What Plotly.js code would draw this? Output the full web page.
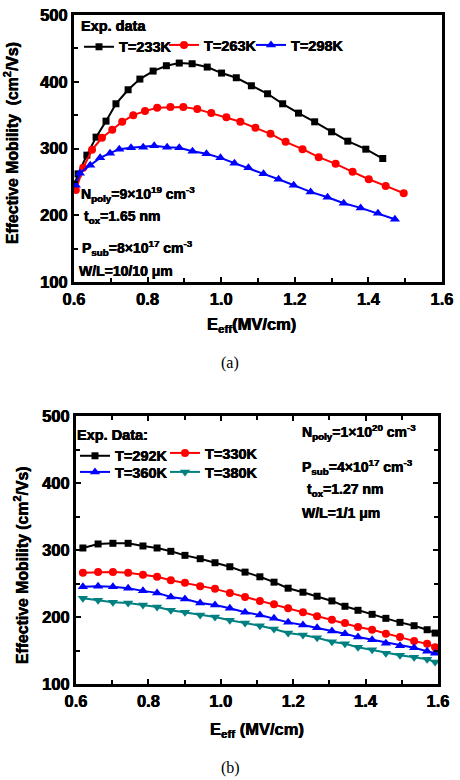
<!DOCTYPE html>
<html>
<head>
<meta charset="utf-8">
<script src="https://cdn.plot.ly/plotly-3.0.1.min.js"></script>
<style>html,body{margin:0;padding:0;background:#fff;}#chart{width:460px;height:780px;}</style>
</head>
<body>
<div id="chart"></div>
<script>
// ---- Panel (a) data ----
const a_x233 = [0.602,0.611,0.635,0.660,0.687,0.714,0.747,0.779,0.815,0.851,0.886,0.921,0.962,1.001,1.041,1.082,1.126,1.167,1.210,1.254,1.300,1.344,1.393,1.439];
const a_y233 = [247,262,290,317,341,367,388,404,416,424,428,427,422,413,406,394,382,367,353,340,325,311,299,285];
const a_x263 = [0.605,0.625,0.649,0.676,0.704,0.731,0.761,0.793,0.826,0.862,0.897,0.935,0.973,1.014,1.052,1.093,1.134,1.175,1.221,1.265,1.311,1.357,1.401,1.447,1.496];
const a_y263 = [238,271,298,316,328,340,350,356,361,362,362,359,353,347,340,331,322,310,299,287,277,265,254,244,233];
const a_x298 = [0.605,0.616,0.644,0.671,0.698,0.723,0.755,0.788,0.818,0.853,0.886,0.922,0.960,0.998,1.036,1.074,1.115,1.156,1.197,1.243,1.289,1.333,1.379,1.426,1.472];
const a_y298 = [245,263,275,286,293,299,301,302,304,302,301,296,292,286,278,271,262,254,245,235,227,218,211,203,194];

// ---- Panel (b) data ----
const b_x = [0.619,0.661,0.702,0.744,0.785,0.824,0.862,0.901,0.943,0.984,1.025,1.067,1.108,1.147,1.186,1.227,1.266,1.307,1.343,1.379,1.418,1.456,1.495,1.534,1.570,1.592];
const b_y292 = [303,309,310,310,306,303,298,292,287,281,275,267,260,252,243,237,231,224,216,210,204,198,192,187,181,176];
const b_y330 = [266,267,267,266,263,260,255,251,246,242,236,230,224,219,213,207,201,196,191,185,181,175,170,164,160,155];
const b_y360 = [245,246,245,243,239,236,230,227,221,218,213,207,203,198,192,188,184,179,175,170,166,161,157,154,149,146];
const b_y380 = [228,225,222,221,218,215,210,207,203,200,195,191,187,182,176,173,169,163,160,155,151,146,143,140,137,133];

const a_names = ['T=233K','T=263K','T=298K'];
const b_names = ['T=292K','T=330K','T=360K','T=380K'];

const FONT = "'Liberation Sans', Arial, sans-serif";
const BLACK = '#000000', RED = '#ff0000', BLUE = '#0000ff', TEAL = '#008080';
const HEAVY = '0.3px 0 0 #000, -0.3px 0 0 #000';

function tr(x, y, name, color, symbol, size, xa, ya, legend) {
  return {
    x: x, y: y, name: name, type: 'scatter', mode: 'lines+markers',
    xaxis: xa, yaxis: ya, legend: legend,
    line: {color: color, width: 2},
    marker: {color: color, symbol: symbol, size: size, line: {width: 0}}
  };
}

const data = [
  tr(a_x233, a_y233, a_names[0], BLACK, 'square', 7, 'x', 'y', 'legend'),
  tr(a_x263, a_y263, a_names[1], RED, 'circle', 8, 'x', 'y', 'legend4'),
  tr(a_x298, a_y298, a_names[2], BLUE, 'triangle-up', 9, 'x', 'y', 'legend5'),
  tr(b_x, b_y292, b_names[0], BLACK, 'square', 7, 'x2', 'y2', 'legend2'),
  tr(b_x, b_y330, b_names[1], RED, 'circle', 8, 'x2', 'y2', 'legend6'),
  tr(b_x, b_y360, b_names[2], BLUE, 'triangle-up', 9, 'x2', 'y2', 'legend3'),
  tr(b_x, b_y380, b_names[3], TEAL, 'triangle-down', 9, 'x2', 'y2', 'legend7')
];

const W = 460, H = 780;
const px = v => v / W;
const py = v => 1 - v / H;

function bold(size) { return {family: FONT, size: size, color: '#000', weight: 700, shadow: HEAVY}; }

const tickFont = bold(16.5);

function xaxis(domain, anchor, mirror) {
  return {
    domain: domain, anchor: anchor, range: [0.6, 1.6], dtick: 0.2, tick0: 0.6,
    tickformat: '.1f', showgrid: false, zeroline: false,
    showline: true, linecolor: '#000', linewidth: 3, mirror: mirror,
    ticks: 'inside', ticklen: 5, tickwidth: 2, tickcolor: '#000',
    minor: {dtick: 0.1, ticks: 'inside', ticklen: 4, tickwidth: 2, tickcolor: '#000', showgrid: false},
    tickfont: tickFont,
    fixedrange: true
  };
}
function yaxis(domain, anchor, mirror) {
  return {
    domain: domain, anchor: anchor, range: [100, 500], dtick: 100, tick0: 100,
    showgrid: false, zeroline: false,
    showline: true, linecolor: '#000', linewidth: 3, mirror: mirror,
    ticks: 'inside', ticklen: 5, tickwidth: 2, tickcolor: '#000',
    minor: {dtick: 50, ticks: 'inside', ticklen: 4, tickwidth: 2, tickcolor: '#000', showgrid: false},
    tickfont: tickFont,
    fixedrange: true
  };
}

const legFont = bold(14.5);
function legend(x, y, title) {
  const l = {
    x: px(x), y: py(y), xanchor: 'left', yanchor: 'top', orientation: 'h',
    bgcolor: 'rgba(0,0,0,0)', borderwidth: 0, font: legFont,
    itemclick: false, itemdoubleclick: false, tracegroupgap: 0
  };
  if (title) l.title = {text: title, side: 'top', font: legFont};
  return l;
}

function ann(x, y, text, opts) {
  return Object.assign({
    xref: 'paper', yref: 'paper', x: px(x), y: py(y), text: text, showarrow: false,
    xanchor: 'left', yanchor: 'middle',
    font: bold(14)
  }, opts || {});
}

const annotations = [
  // panel (a) notes
  ann(79, 194, '<b>N<sub>poly</sub>=9×10<sup>19</sup> cm<sup>-3</sup></b>'),
  ann(82, 217, '<b>t<sub>ox</sub>=1.65 nm</b>'),
  ann(80, 248, '<b>P<sub>sub</sub>=8×10<sup>17</sup> cm<sup>-3</sup></b>'),
  ann(77, 271, '<b>W/L=10/10 μm</b>'),
  // panel (b) notes
  ann(300, 432, '<b>N<sub>poly</sub>=1×10<sup>20</sup> cm<sup>-3</sup></b>'),
  ann(300, 467, '<b>P<sub>sub</sub>=4×10<sup>17</sup> cm<sup>-3</sup></b>'),
  ann(305, 490, '<b>t<sub>ox</sub>=1.27 nm</b>'),
  ann(300, 513, '<b>W/L=1/1 μm</b>'),
  // axis titles
  ann(252, 325, '<b>E<sub>eff</sub>(MV/cm)</b>', {xanchor: 'center', font: bold(16.5)}),
  ann(257, 730, '<b>E<sub>eff</sub> (MV/cm)</b>', {xanchor: 'center', font: bold(16.5)}),
  ann(11, 143, '<b>Effective Mobility\u00a0 (cm<sup>2</sup>/Vs)</b>', {xanchor: 'center', textangle: -90, font: bold(15.8)}),
  ann(21, 565, '<b>Effective Mobility (cm<sup>2</sup>/Vs)</b>', {xanchor: 'center', textangle: -90, font: bold(15.8)}),
  // panel labels
  ann(230, 363, '(a)', {xanchor: 'center', font: {family: "'Liberation Serif', 'Times New Roman', serif", size: 16, color: '#000'}}),
  ann(230, 768, '(b)', {xanchor: 'center', font: {family: "'Liberation Serif', 'Times New Roman', serif", size: 16, color: '#000'}})
];

const layout = {
  width: W, height: H,
  margin: {l: 0, r: 0, t: 0, b: 0},
  paper_bgcolor: '#fff', plot_bgcolor: '#fff',
  showlegend: true,
  xaxis: xaxis([px(74), px(442)], 'y', true),
  yaxis: yaxis([py(282), py(15)], 'x', true),
  xaxis2: xaxis([px(76), px(438)], 'y2', 'allticks'),
  yaxis2: yaxis([py(684), py(416)], 'x2', 'allticks'),
  // panel (a) legend row
  legend:  legend(79, 12, '<b>Exp. data</b>'),
  legend4: legend(164, 29, null),
  legend5: legend(251, 29, null),
  // panel (b) legend rows
  legend2: legend(75, 421, '<b>Exp. Data:</b>'),
  legend6: legend(165, 437, null),
  legend3: legend(75, 456, null),
  legend7: legend(165, 456, null),
  annotations: annotations
};

Plotly.newPlot('chart', data, layout, {staticPlot: true, displayModeBar: false});
</script>
</body>
</html>
